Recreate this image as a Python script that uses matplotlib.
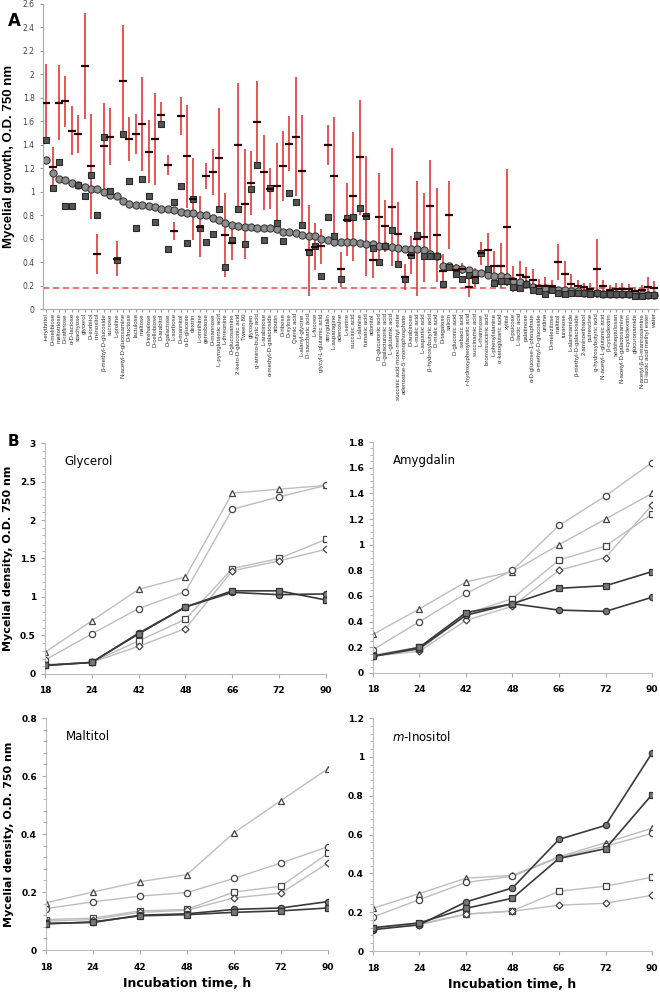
import matplotlib
matplotlib.use("Agg")
import matplotlib.pyplot as plt
from matplotlib.ticker import MultipleLocator

# ---- panel A: carbon sources ----
sources = [
    "i-erythritol", "D-melibiose", "maltotriose", "D-raffinose", "α-D-lactose",
    "stachyose", "glycerol", "D-sorbitol", "m-inositol", "β-methyl-D-glucoside",
    "sucrose", "L-proline", "N-acetyl-D-glucosamine", "D-fructose", "lactulose",
    "maltose", "D-trehalose", "D-cellobiose", "D-arabitol", "D-galactose",
    "L-sorbose", "D-mannitol", "α-D-glucose", "dextrin", "L-ornithine",
    "gentobiose", "D-mannose", "L-pyroglutamic acid", "L-threonine", "D-glucosamine",
    "2-keto-D-gluconic acid", "Tween 80", "glycogen", "g-amino-butyric acid", "L-arabinose",
    "α-methyl-D-galactoside", "arbutin", "D-ribose", "D-xylose", "Quinic acid",
    "L-alanyl-glycine", "D-saccharic acid", "L-fucose", "glycyl-L-glutamic acid", "amygdalin",
    "L-asparagine", "adenosine", "L-serine", "succinic acid", "L-alanine",
    "fumaric acid", "adonitol", "D-glucuronic acid", "D-galacturonic acid", "L-glutamic acid",
    "succinic acid mono-methyl ester", "adenosine-5'-monophosphate", "D-arabinose", "L-malic acid", "L-aspartic acid",
    "β-hydroxybutyric acid", "D-malic acid", "D-tagatose", "salicin", "D-gluconic acid",
    "sebacic acid", "r-hydroxyphenylacetic acid", "succinamic acid", "L-rhamnose", "bromosuccinic acid",
    "L-phenylalanine", "α-ketoglutaric acid", "xylitol", "D-psicose", "L-lactic acid",
    "palatinose", "α-D-glucose-1-phosphate", "α-methyl-D-glucoside", "uridine", "D-melezitose",
    "maltitol", "turanose", "L-alaninamide", "β-methyl-D-galactoside", "2-aminoethanol",
    "putrescine", "g-hydroxybutyric acid", "N-acetyl-L-glutamic acid", "β-cyclodextrin", "sedoheptulosan",
    "N-acetyl-D-galactosamine", "α-cyclodextrin", "glucuronamide", "N-acetyl-β-D-mannosamine",
    "D-lactic acid methyl ester", "water",
]

circle_vals = [
    1.27, 1.16, 1.11, 1.10, 1.07, 1.06, 1.04, 1.02, 1.02, 1.00,
    0.97, 0.96, 0.92, 0.895, 0.89, 0.885, 0.875, 0.87, 0.85, 0.85,
    0.84, 0.825, 0.82, 0.815, 0.80, 0.80, 0.775, 0.755, 0.73, 0.72,
    0.71, 0.70, 0.695, 0.69, 0.69, 0.69, 0.68, 0.655, 0.655, 0.65,
    0.63, 0.62, 0.62, 0.60, 0.585, 0.575, 0.575, 0.57, 0.57, 0.565,
    0.555, 0.55, 0.54, 0.535, 0.53, 0.52, 0.515, 0.51, 0.51, 0.505,
    0.47, 0.455, 0.37, 0.363, 0.35, 0.34, 0.335, 0.31, 0.305, 0.29,
    0.285, 0.28, 0.275, 0.235, 0.23, 0.21, 0.19, 0.18, 0.175, 0.17,
    0.165, 0.16, 0.155, 0.15, 0.14, 0.135, 0.135, 0.13, 0.13, 0.13,
    0.13, 0.13, 0.125, 0.125, 0.12, 0.12,
]

square_vals = [
    1.44, 1.03, 1.25, 0.88, 0.88, 1.06, 0.96, 1.14, 0.80, 1.47,
    1.01, 0.42, 1.49, 1.09, 0.69, 1.11, 0.96, 0.74, 1.58, 0.51,
    0.915, 1.05, 0.56, 0.94, 0.69, 0.57, 0.64, 0.85, 0.36, 0.59,
    0.85, 0.55, 1.02, 1.23, 0.585, 1.03, 0.73, 0.58, 0.99, 0.91,
    0.72, 0.485, 0.54, 0.285, 0.78, 0.62, 0.255, 0.775, 0.78, 0.865,
    0.79, 0.52, 0.40, 0.54, 0.67, 0.385, 0.26, 0.46, 0.63, 0.455,
    0.455, 0.455, 0.215, 0.36, 0.30, 0.26, 0.29, 0.25, 0.475, 0.34,
    0.225, 0.24, 0.235, 0.19, 0.175, 0.21, 0.165, 0.15, 0.13, 0.165,
    0.135, 0.13, 0.14, 0.14, 0.135, 0.13, 0.135, 0.13, 0.13, 0.13,
    0.13, 0.13, 0.11, 0.115, 0.12, 0.12,
]

dash_vals = [
    1.76, 1.21, 1.76, 1.77, 1.52, 1.49, 2.07, 1.215, 0.47, 1.39,
    1.47, 0.43, 1.94, 1.45, 1.49, 1.58, 1.34, 1.45, 1.655, 1.23,
    0.665, 1.645, 1.30, 0.94, 0.70, 1.135, 1.165, 1.29, 0.63, 0.56,
    1.40, 0.895, 1.075, 1.59, 1.165, 1.025, 1.045, 1.22, 1.41, 1.47,
    1.18, 0.50, 0.53, 0.535, 1.40, 1.135, 0.34, 0.76, 0.96, 1.295,
    0.79, 0.415, 0.78, 0.71, 0.87, 0.64, 0.27, 0.46, 0.60, 0.61,
    0.88, 0.63, 0.325, 0.80, 0.33, 0.345, 0.19, 0.27, 0.475, 0.505,
    0.365, 0.37, 0.695, 0.255, 0.29, 0.27, 0.25, 0.20, 0.20, 0.20,
    0.40, 0.30, 0.215, 0.20, 0.185, 0.17, 0.345, 0.20, 0.165, 0.17,
    0.17, 0.17, 0.15, 0.165, 0.19, 0.18,
]

dash_err = [
    0.33, 0.17, 0.32, 0.22, 0.21, 0.16, 0.45, 0.45, 0.17, 0.37,
    0.245, 0.15, 0.48, 0.19, 0.17, 0.40, 0.27, 0.39, 0.11, 0.085,
    0.08, 0.16, 0.44, 0.35, 0.26, 0.11, 0.195, 0.42, 0.36, 0.14,
    0.53, 0.47, 0.27, 0.35, 0.32, 0.175, 0.37, 0.30, 0.235, 0.51,
    0.47, 0.39, 0.20, 0.15, 0.17, 0.50, 0.15, 0.31, 0.55, 0.49,
    0.51, 0.15, 0.38, 0.22, 0.50, 0.27, 0.11, 0.16, 0.49, 0.38,
    0.39, 0.40, 0.145, 0.29, 0.05, 0.05, 0.09, 0.08, 0.10, 0.14,
    0.13, 0.19, 0.50, 0.11, 0.12, 0.09, 0.09, 0.06, 0.07, 0.05,
    0.15, 0.11, 0.08, 0.05, 0.04, 0.05, 0.25, 0.05, 0.04, 0.05,
    0.05, 0.04, 0.04, 0.04, 0.08, 0.06,
]

background_od = 0.18

# ---- panel B: time courses ----
hours = ["18", "24", "42", "48", "66", "72", "90"]

glycerol = {
    "tri": [0.28, 0.69, 1.10, 1.26, 2.35, 2.40, 2.45],
    "circ": [0.18, 0.52, 0.85, 1.07, 2.14, 2.30, 2.45],
    "sq": [0.12, 0.15, 0.43, 0.71, 1.37, 1.50, 1.75],
    "dia": [0.12, 0.15, 0.36, 0.59, 1.34, 1.47, 1.62],
    "circ_f": [0.11, 0.15, 0.53, 0.87, 1.06, 1.03, 1.04],
    "sq_f": [0.11, 0.15, 0.52, 0.87, 1.08, 1.08, 0.96],
}
amygdalin = {
    "tri": [0.30, 0.50, 0.71, 0.79, 1.00, 1.20, 1.40],
    "circ": [0.18, 0.40, 0.62, 0.80, 1.15, 1.38, 1.64],
    "sq": [0.14, 0.20, 0.46, 0.58, 0.88, 0.99, 1.24],
    "dia": [0.13, 0.17, 0.41, 0.52, 0.80, 0.90, 1.31],
    "circ_f": [0.13, 0.19, 0.45, 0.54, 0.49, 0.48, 0.59],
    "sq_f": [0.13, 0.20, 0.47, 0.54, 0.66, 0.68, 0.79],
}
maltitol = {
    "tri": [0.163, 0.20, 0.236, 0.26, 0.404, 0.515, 0.625],
    "circ": [0.143, 0.166, 0.186, 0.198, 0.247, 0.30, 0.356],
    "sq": [0.105, 0.11, 0.135, 0.14, 0.20, 0.22, 0.333],
    "dia": [0.10, 0.105, 0.13, 0.137, 0.18, 0.196, 0.30],
    "circ_f": [0.092, 0.095, 0.12, 0.125, 0.14, 0.145, 0.167],
    "sq_f": [0.09, 0.097, 0.118, 0.122, 0.13, 0.135, 0.145],
}
inositol = {
    "tri": [0.22, 0.296, 0.375, 0.39, 0.485, 0.558, 0.632],
    "circ": [0.175, 0.265, 0.353, 0.385, 0.482, 0.54, 0.606],
    "sq": [0.12, 0.14, 0.19, 0.207, 0.308, 0.334, 0.38],
    "dia": [0.115, 0.135, 0.19, 0.205, 0.236, 0.246, 0.287],
    "circ_f": [0.11, 0.135, 0.253, 0.325, 0.575, 0.647, 1.02],
    "sq_f": [0.12, 0.145, 0.22, 0.272, 0.477, 0.527, 0.806],
}

series_style = {
    "tri": dict(marker="^", mfc="white", mec="#444444", color="#bdbdbd", lw=1.0, zorder=2),
    "circ": dict(marker="o", mfc="white", mec="#444444", color="#bdbdbd", lw=1.0, zorder=2),
    "sq": dict(marker="s", mfc="white", mec="#444444", color="#bdbdbd", lw=1.0, zorder=2),
    "dia": dict(marker="D", mfc="white", mec="#444444", color="#bdbdbd", lw=1.0, zorder=2, ms=3.5),
    "circ_f": dict(marker="o", mfc="#777777", mec="#333333", color="#3a3a3a", lw=1.2, zorder=3),
    "sq_f": dict(marker="s", mfc="#777777", mec="#333333", color="#3a3a3a", lw=1.2, zorder=3),
}

fig = plt.figure(figsize=(6.6, 9.92), dpi=100)

# ---------- A ----------
axA = fig.add_axes([0.0652, 0.6885, 0.932, 0.3075])
x = list(range(len(sources)))
axA.errorbar(x, dash_vals, yerr=dash_err, fmt="none", ecolor="#dd2a2a",
             elinewidth=1.3, alpha=0.85, zorder=1)
axA.plot(x, circle_vals, "o", ms=5.2, mfc="#8e8e8e", mec="#3c3c3c", mew=0.8, zorder=2)
axA.plot(x, square_vals, "s", ms=5.0, mfc="#555555", mec="#2a2a2a", mew=0.8, zorder=3)
axA.plot(x, dash_vals, "_", ms=5.5, mew=1.6, color="#2a0000", zorder=4)
axA.axhline(background_od, color="#e05050", ls="--", lw=1.1, dashes=(4, 2.5), zorder=0)

axA.set_xlim(-0.5, 95.6)
axA.set_ylim(0, 2.6)
axA.yaxis.set_major_locator(MultipleLocator(0.2))
axA.set_yticklabels([f"{v:g}" for v in axA.get_yticks()])
axA.set_xticks(x)
axA.set_xticklabels(sources, rotation=90, fontsize=4.4, family="Liberation Sans", color="#333333")
axA.tick_params(axis="y", labelsize=5.5, length=2.5, color="#999999", labelcolor="#444444")
axA.tick_params(axis="x", length=2, color="#999999", pad=1)
for s in ["top", "right"]:
    axA.spines[s].set_visible(False)
for s in ["left", "bottom"]:
    axA.spines[s].set_color("#aaaaaa")
axA.set_ylabel("Mycelial growth, O.D. 750 nm", fontsize=9.5, family="Liberation Sans",
               fontweight="bold")
axA.yaxis.set_label_coords(-0.045, 0.5)
fig.text(0.012, 0.988, "A", fontsize=12, fontweight="bold", va="top")

# ---------- B ----------
panels = [
    ("Glycerol", glycerol, [0.068, 0.3206, 0.426, 0.2328], 3.0, 0.5, 0.1, True),
    ("Amygdalin", amygdalin, [0.565, 0.3216, 0.423, 0.2328], 1.8, 0.2, 0.05, False),
    ("Maltitol", maltitol, [0.0697, 0.0423, 0.427, 0.2339], 0.8, 0.2, 0.04, True),
    ("$\\mathit{m}$-Inositol", inositol, [0.565, 0.0413, 0.423, 0.2349], 1.2, 0.2, 0.04, False),
]

tx = list(range(len(hours)))
for title, data, rect, ymax, major, minor, left in panels:
    ax = fig.add_axes(rect)
    for key in ["tri", "circ", "sq", "dia", "circ_f", "sq_f"]:
        st = dict(series_style[key])
        ms = st.pop("ms", 4.5)
        ax.plot(tx, data[key], ms=ms, mew=0.9, **st)
    ax.set_xlim(0, 6)
    ax.set_ylim(0, ymax)
    ax.set_xticks(tx)
    ax.set_xticklabels(hours)
    ax.yaxis.set_major_locator(MultipleLocator(major))
    ax.yaxis.set_minor_locator(MultipleLocator(minor))
    ax.set_yticklabels([f"{v:g}" for v in ax.get_yticks()])
    ax.tick_params(labelsize=6.5, length=3, color="#aaaaaa")
    ax.tick_params(axis="y", which="minor", length=2, color="#aaaaaa")
    for lab in ax.get_xticklabels() + ax.get_yticklabels():
        lab.set_fontweight("bold")
    ax.tick_params(axis="x", pad=6)
    for s in ["top", "right"]:
        ax.spines[s].set_visible(False)
    for s in ["left", "bottom"]:
        ax.spines[s].set_color("#bbbbbb")
    ax.text(0.07, 0.95, title, transform=ax.transAxes, fontsize=8.5, va="top")
    if left:
        ax.set_ylabel("Mycelial density, O.D. 750 nm", fontsize=8, fontweight="bold")
        ax.yaxis.set_label_coords(-0.115, 0.5)
    if rect[1] < 0.1:
        ax.set_xlabel("Incubation time, h", fontsize=9, fontweight="bold", labelpad=4)

fig.text(0.012, 0.562, "B", fontsize=11, fontweight="bold", va="top")

fig.savefig("out.png", dpi=100)
